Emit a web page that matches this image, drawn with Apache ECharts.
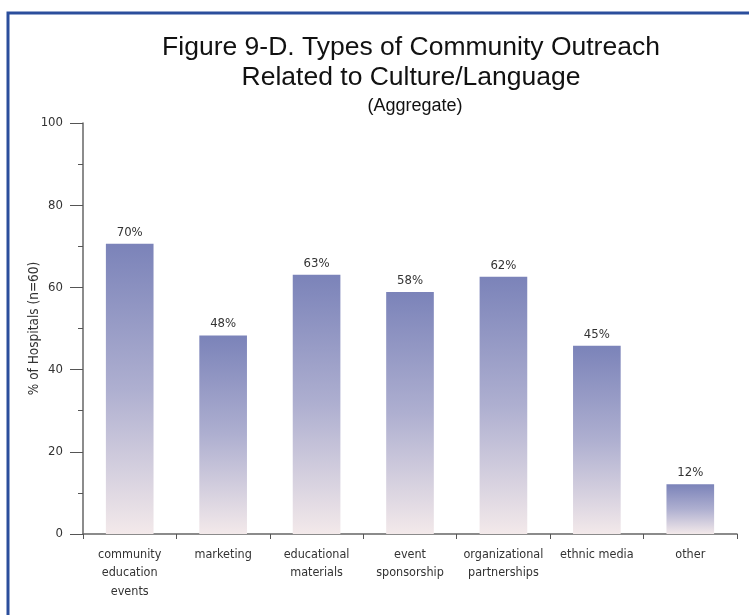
<!DOCTYPE html>
<html>
<head>
<meta charset="utf-8">
<script src="https://cdn.jsdelivr.net/npm/echarts@6/dist/echarts.min.js"></script>
<style>
html,body{margin:0;padding:0;background:#fff;}
#chart{width:749px;height:615px;}
</style>
</head>
<body>
<div id="chart"></div>
<script>
var categories = ['community\neducation\nevents', 'marketing', 'educational\nmaterials', 'event\nsponsorship', 'organizational\npartnerships', 'ethnic media', 'other'];
var values = [70.6, 48.3, 63.1, 58.9, 62.6, 45.8, 12.1];
var valueLabels = ['70%', '48%', '63%', '58%', '62%', '45%', '12%'];
var yTicks = [0, 20, 40, 60, 80, 100];

var FONT = '"DejaVu Sans Condensed", "Liberation Sans", sans-serif';
var chart = echarts.init(document.getElementById('chart'), null, {renderer: 'canvas'});
chart.setOption({
  animation: false,
  backgroundColor: '#ffffff',
  title: [{
    text: 'Figure 9-D. Types of Community Outreach\nRelated to Culture/Language',
    left: 406, top: 28, textAlign: 'center',
    textStyle: {fontFamily: '"Liberation Sans", Arial, sans-serif', fontSize: 26.5, fontWeight: 'normal', color: '#111', lineHeight: 30}
  }, {
    text: '(Aggregate)',
    left: 410, top: 92, textAlign: 'center',
    textStyle: {fontFamily: '"Liberation Sans", Arial, sans-serif', fontSize: 18, fontWeight: 'normal', color: '#111'}
  }],
  graphic: [{
    type: 'rect', shape: {x: 8, y: 13, width: 800, height: 700}, silent: true,
    style: {fill: 'none', stroke: '#2b4e9c', lineWidth: 3}
  }],
  grid: {left: 83, top: 123, right: 12, bottom: 81, containLabel: false},
  xAxis: {
    type: 'category', data: categories,
    axisLine: {lineStyle: {color: '#666', width: 1.5}},
    axisTick: {show: true, length: 5, lineStyle: {color: '#555'}},
    axisLabel: {fontFamily: FONT, fontSize: 12.5, color: '#333', lineHeight: 18.5, margin: 11, interval: 0}
  },
  yAxis: {
    type: 'value', min: 0, max: 100, interval: 20,
    name: '% of Hospitals (n=60)', nameLocation: 'middle', nameGap: 42, nameRotate: 90,
    nameMoveOverlap: false,
    nameTextStyle: {fontFamily: FONT, fontSize: 13.5, color: '#333'},
    axisLine: {show: true, lineStyle: {color: '#666', width: 1.5}},
    axisTick: {show: true, length: 13, lineStyle: {color: '#555'}},
    minorTick: {show: true, splitNumber: 2, length: 5, lineStyle: {color: '#555'}},
    splitLine: {show: false},
    axisLabel: {fontFamily: FONT, fontSize: 13, color: '#333', margin: 20,
      formatter: function (v) { return yTicks.indexOf(v) >= 0 ? String(v) : ''; }}
  },
  series: [{
    type: 'bar', data: values, barWidth: '51%',
    itemStyle: {
      color: new echarts.graphic.LinearGradient(0, 0, 0, 1, [
        {offset: 0, color: '#7b83b9'},
        {offset: 0.5, color: '#aeafd0'},
        {offset: 1, color: '#f3e9ea'}
      ])
    },
    label: {
      show: true, position: 'top', distance: 5,
      fontFamily: FONT, fontSize: 13, color: '#333',
      formatter: function (p) { return valueLabels[p.dataIndex]; }
    }
  }]
});
</script>
</body>
</html>
